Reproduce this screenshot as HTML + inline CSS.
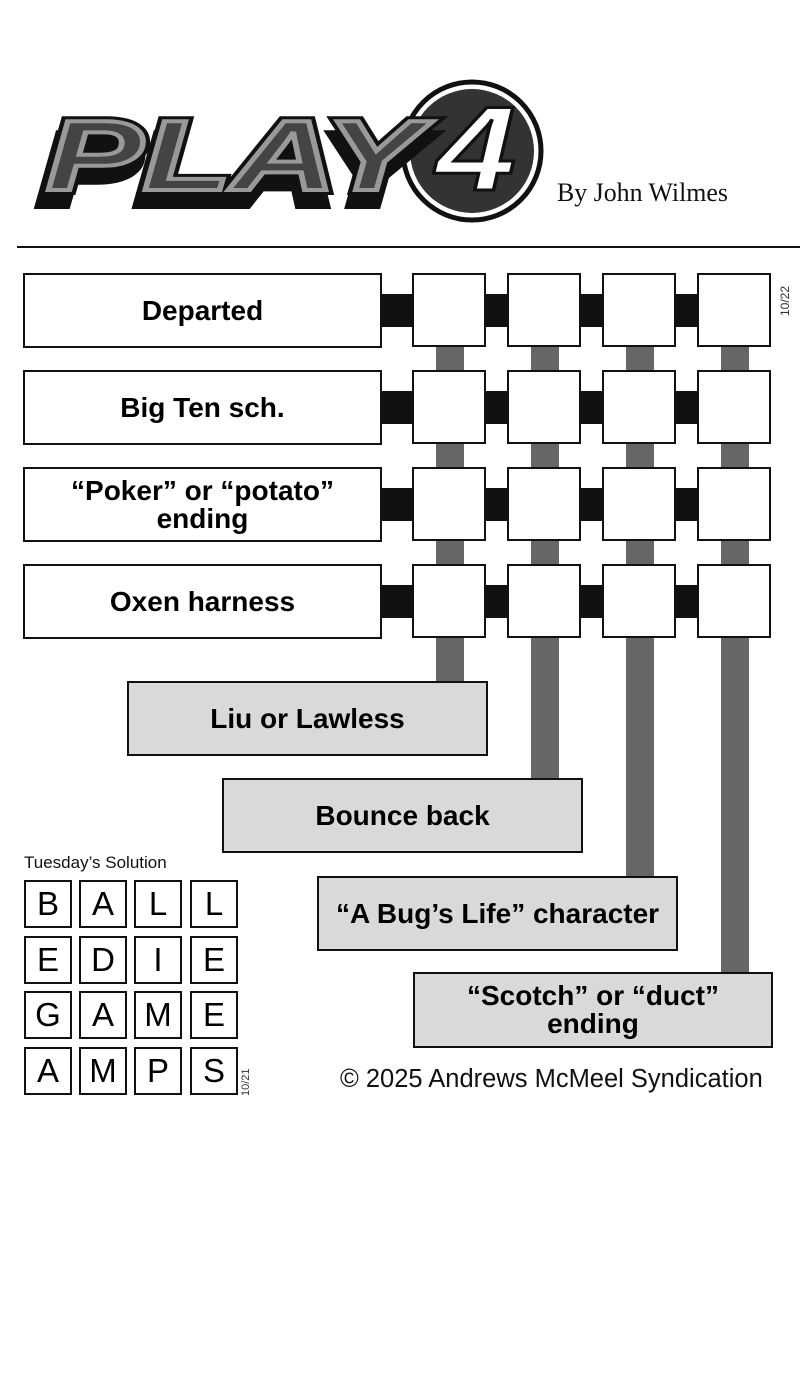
<!DOCTYPE html>
<html><head><meta charset="utf-8"><style>
body{margin:0;background:#fff;width:810px;height:1396px;position:relative;overflow:hidden;font-family:"Liberation Sans",Arial,sans-serif}
.a{position:absolute;box-sizing:border-box}
.clue{border:2.5px solid #111;background:#fff;display:flex;align-items:center;justify-content:center;text-align:center;font-weight:bold;font-size:28px;line-height:28px}
.g{background:#d9d9d9}
.sq{border:2.5px solid #111;background:#fff;width:74px;height:74px}
.bk{background:#111}
.bar{background:#666}
.s{border:2px solid #111;width:48px;height:48px;display:flex;align-items:center;justify-content:center;font-size:33px}
</style></head><body>
<svg class="a" style="left:0;top:0" width="810" height="240" viewBox="0 0 810 240">
 <circle cx="472" cy="151" r="69" fill="#fff" stroke="#111" stroke-width="5"/>
 <circle cx="472" cy="151" r="62" fill="#333"/>
 <g font-family="Liberation Sans" font-weight="bold" font-style="italic" font-size="100">
  <text x="40" y="204" fill="#111" stroke="#111" stroke-width="10" textLength="380" lengthAdjust="spacingAndGlyphs">PLAY</text>
  <text x="46" y="190" fill="#444" stroke="#111" stroke-width="10" textLength="376" lengthAdjust="spacingAndGlyphs">PLAY</text>
  <text x="46" y="190" fill="#444" stroke="#999" stroke-width="4" textLength="376" lengthAdjust="spacingAndGlyphs">PLAY</text>
  <text x="436" y="190" fill="#fff" stroke="#111" stroke-width="3" font-size="120" textLength="80" lengthAdjust="spacingAndGlyphs">4</text>
 </g>
 <text x="557" y="201" font-family="Liberation Serif" font-size="26" fill="#111" textLength="171" lengthAdjust="spacingAndGlyphs">By John Wilmes</text>
</svg>
<div class="a" style="left:17px;top:246px;width:783px;height:2px;background:#111"></div>

<div class="a bar" style="left:436px;top:340px;width:28px;height:345px"></div>
<div class="a bar" style="left:531px;top:340px;width:28px;height:442px"></div>
<div class="a bar" style="left:626px;top:340px;width:28px;height:540px"></div>
<div class="a bar" style="left:721px;top:340px;width:28px;height:636px"></div>

<div class="a bk" style="left:378px;top:294px;width:370px;height:33px"></div>
<div class="a bk" style="left:378px;top:391px;width:370px;height:33px"></div>
<div class="a bk" style="left:378px;top:488px;width:370px;height:33px"></div>
<div class="a bk" style="left:378px;top:585px;width:370px;height:33px"></div>

<div class="a clue" style="left:23px;top:273px;width:359px;height:75px">Departed</div>
<div class="a clue" style="left:23px;top:370px;width:359px;height:75px">Big Ten sch.</div>
<div class="a clue" style="left:23px;top:467px;width:359px;height:75px">“Poker” or “potato”<br>ending</div>
<div class="a clue" style="left:23px;top:564px;width:359px;height:75px">Oxen harness</div>

<div class="a sq" style="left:412px;top:273px"></div><div class="a sq" style="left:507px;top:273px"></div><div class="a sq" style="left:602px;top:273px"></div><div class="a sq" style="left:697px;top:273px"></div>
<div class="a sq" style="left:412px;top:370px"></div><div class="a sq" style="left:507px;top:370px"></div><div class="a sq" style="left:602px;top:370px"></div><div class="a sq" style="left:697px;top:370px"></div>
<div class="a sq" style="left:412px;top:467px"></div><div class="a sq" style="left:507px;top:467px"></div><div class="a sq" style="left:602px;top:467px"></div><div class="a sq" style="left:697px;top:467px"></div>
<div class="a sq" style="left:412px;top:564px"></div><div class="a sq" style="left:507px;top:564px"></div><div class="a sq" style="left:602px;top:564px"></div><div class="a sq" style="left:697px;top:564px"></div>
<div class="a" style="font-size:12px;color:#333;transform:rotate(-90deg);transform-origin:left top;top:316px;left:778px">10/22</div>

<div class="a clue g" style="left:127px;top:681px;width:361px;height:75px">Liu or Lawless</div>
<div class="a clue g" style="left:222px;top:778px;width:361px;height:75px">Bounce back</div>
<div class="a clue g" style="left:317px;top:876px;width:361px;height:75px">“A Bug’s Life” character</div>
<div class="a clue g" style="left:413px;top:972px;width:360px;height:76px">“Scotch” or “duct”<br>ending</div>

<div class="a" style="left:24px;top:853px;font-size:17px;color:#111">Tuesday’s Solution</div>
<div class="a s" style="left:24px;top:880px">B</div><div class="a s" style="left:79px;top:880px">A</div><div class="a s" style="left:134px;top:880px">L</div><div class="a s" style="left:190px;top:880px">L</div>
<div class="a s" style="left:24px;top:936px">E</div><div class="a s" style="left:79px;top:936px">D</div><div class="a s" style="left:134px;top:936px">I</div><div class="a s" style="left:190px;top:936px">E</div>
<div class="a s" style="left:24px;top:991px">G</div><div class="a s" style="left:79px;top:991px">A</div><div class="a s" style="left:134px;top:991px">M</div><div class="a s" style="left:190px;top:991px">E</div>
<div class="a s" style="left:24px;top:1047px">A</div><div class="a s" style="left:79px;top:1047px">M</div><div class="a s" style="left:134px;top:1047px">P</div><div class="a s" style="left:190px;top:1047px">S</div>
<div class="a" style="font-size:11px;color:#333;transform:rotate(-90deg);transform-origin:left top;top:1096px;left:240px">10/21</div>

<div class="a" style="left:340px;top:1065px;font-size:25.5px;color:#111">© 2025 Andrews McMeel Syndication</div>
</body></html>
